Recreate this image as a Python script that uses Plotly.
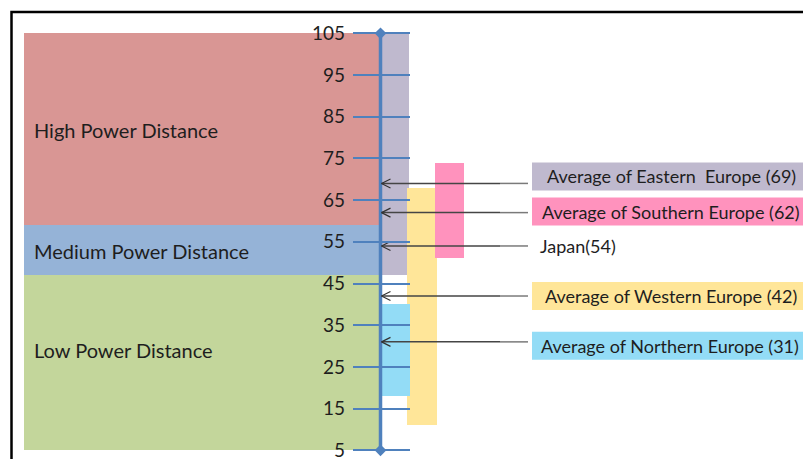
import plotly.graph_objects as go

# Power distance scale
tick_values = [5, 15, 25, 35, 45, 55, 65, 75, 85, 95, 105]

# Classification bands (low / medium / high)
band_names = ["Low Power Distance", "Medium Power Distance", "High Power Distance"]
band_low = [5, 47, 59]
band_high = [47, 59, 105]

# Range of scores within each European region
region_names = ["Eastern Europe", "Western Europe", "Northern Europe", "Southern Europe"]
region_min = [47, 11, 18, 51]
region_max = [105, 68, 40, 74]

# Averages pointed at on the scale
marker_labels = [
    "Average of Eastern  Europe (69)",
    "Average of Southern Europe (62)",
    "Japan(54)",
    "Average of Western Europe (42)",
    "Average of Northern Europe (31)",
]
marker_values = [69, 62, 54, 42, 31]

# ---- styling -------------------------------------------------------------
W, H = 803, 459
FONT = "Lato"
TEXT = "#1e1e1e"
AXIS_BLUE = "#4F81BD"

band_colors = ["#C3D69B", "#95B3D7", "#D99694"]
band_x0, band_x1 = 24, 379
band_text_x = 32
band_text_shift = [13, -1, -1]

region_colors = ["#BFB9CE", "#FFE699", "#93DCF6", "#FF92BD"]
region_x0 = [380, 407, 380, 435]
region_x1 = [409, 437, 410, 464]

label_colors = ["#BFB9CE", "#FF92BD", None, "#FFE699", "#93DCF6"]
label_shift = [7, 1, 0, 0, -4]
label_text_x = [545, 539.5, 538, 543, 539]
label_box_x0 = 532
arrow_x0, arrow_x1 = 381.5, 528
arrow_fade_x = 500

axis_x = 380.5
y_range = [2.91, 112.99]
px_per_unit = H / (y_range[1] - y_range[0])

fig = go.Figure()

# Classification bands
fig.add_trace(go.Bar(
    x=[(band_x0 + band_x1) / 2] * 3,
    width=[band_x1 - band_x0] * 3,
    base=band_low,
    y=[hi - lo for lo, hi in zip(band_low, band_high)],
    marker=dict(color=band_colors, line=dict(width=0)),
    hoverinfo="skip", showlegend=False,
))

# Regional ranges
for name, lo, hi, c, x0, x1 in zip(region_names, region_min, region_max,
                                    region_colors, region_x0, region_x1):
    fig.add_trace(go.Bar(
        x=[(x0 + x1) / 2], width=[x1 - x0], base=[lo], y=[hi - lo],
        marker=dict(color=c, line=dict(width=0)),
        name=name, hoverinfo="skip", showlegend=False,
    ))

# Scale line with diamond ends
fig.add_trace(go.Scatter(
    x=[axis_x, axis_x], y=[min(tick_values), max(tick_values)],
    mode="lines+markers",
    line=dict(color=AXIS_BLUE, width=3.5),
    marker=dict(symbol="diamond", size=9, color=AXIS_BLUE),
    hoverinfo="skip", showlegend=False,
))

# Arrows pointing at the averages (darker near the scale, lighter at the tail)
ax, ay = [], []
tx_, ty_ = [], []
hx, hy = [], []
dy = 4.5 / px_per_unit
for v in marker_values:
    ax += [arrow_x0, arrow_fade_x, None]
    ay += [v, v, None]
    tx_ += [arrow_fade_x, arrow_x1, None]
    ty_ += [v, v, None]
    hx += [arrow_x0 + 9, arrow_x0, arrow_x0 + 9, None]
    hy += [v + dy, v, v - dy, None]
fig.add_trace(go.Scatter(x=ax, y=ay, mode="lines",
                         line=dict(color="#454545", width=1.5),
                         hoverinfo="skip", showlegend=False))
fig.add_trace(go.Scatter(x=tx_, y=ty_, mode="lines",
                         line=dict(color="#7a7a7a", width=1.5),
                         hoverinfo="skip", showlegend=False))
fig.add_trace(go.Scatter(x=hx, y=hy, mode="lines",
                         line=dict(color="#333333", width=1.2),
                         hoverinfo="skip", showlegend=False))

annotations = []
shapes = []

# Band labels
for name, lo, hi, s in zip(band_names, band_low, band_high, band_text_shift):
    annotations.append(dict(
        x=band_text_x, y=(lo + hi) / 2, xref="x", yref="y",
        text=name, showarrow=False, xanchor="left", yanchor="middle",
        yshift=s, font=dict(family=FONT, size=20, color=TEXT),
    ))

# Labels for the averages, with coloured boxes
for text, v, c, s, tx in zip(marker_labels, marker_values, label_colors,
                             label_shift, label_text_x):
    if c:
        shapes.append(dict(
            type="rect", xref="x", yref="y", ysizemode="pixel", yanchor=v,
            x0=label_box_x0, x1=W + 10, y0=s - 14, y1=s + 14,
            fillcolor=c, line=dict(width=0), layer="below",
        ))
    annotations.append(dict(
        x=tx, y=v, xref="x", yref="y", text=text, showarrow=False,
        xanchor="left", yanchor="middle", yshift=s,
        font=dict(family=FONT, size=18, color=TEXT),
    ))

# Frame along top and left
top = 1 - 12 / H
shapes.append(dict(
    type="path", xref="x", yref="paper",
    path=f"M 11.5 -0.05 L 11.5 {top} L {W + 5} {top}",
    line=dict(color="black", width=2.5),
))

fig.update_layout(
    width=W, height=H, autosize=False,
    margin=dict(l=0, r=0, t=0, b=0, autoexpand=False),
    paper_bgcolor="white", plot_bgcolor="white",
    barmode="overlay", bargap=0,
    xaxis=dict(range=[0, W], visible=False, fixedrange=True, automargin=False),
    yaxis=dict(
        range=y_range, anchor="free", position=352 / W, automargin=False,
        tickmode="array", tickvals=tick_values,
        ticks="inside", ticklen=57, tickwidth=1.5, tickcolor=AXIS_BLUE,
        showgrid=False, zeroline=False, showline=False,
        tickfont=dict(family=FONT, size=19, color=TEXT),
        ticklabelstandoff=7, ticklabeloverflow="allow",
    ),
    annotations=annotations, shapes=shapes,
    showlegend=False,
)

fig.write_html("out.html")
